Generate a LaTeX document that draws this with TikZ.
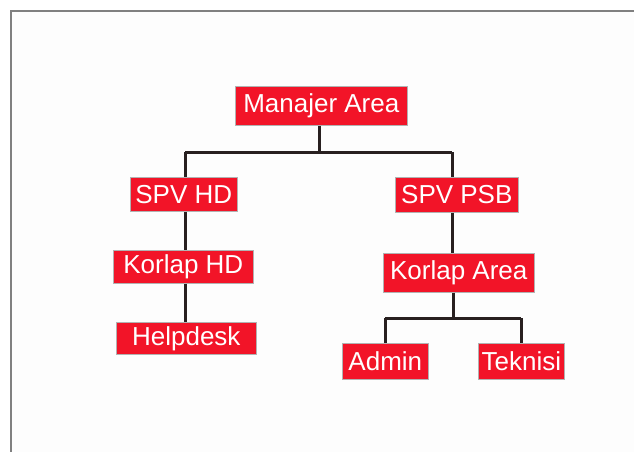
\documentclass[tikz,border=0pt]{standalone}
\usepackage{fontspec}
\setmainfont{Liberation Sans}
\definecolor{boxred}{RGB}{242,20,40}
\definecolor{linedark}{RGB}{40,32,32}
\definecolor{bggray}{RGB}{253,253,253}
\begin{document}
\begin{tikzpicture}[x=1pt,y=-1pt,
  box/.style={rectangle, fill=boxred, draw=gray!60, line width=0.6pt, text=white, inner sep=0pt,
    font=\fontsize{26}{26}\selectfont, anchor=north west},
  conn/.style={draw=linedark, line width=3pt}]
\useasboundingbox (0,0) rectangle (634,452);
\fill[white] (0,0) rectangle (634,452);
\fill[bggray] (11,11) rectangle (634,452);
\draw[gray, line width=1.5pt] (11,452) -- (11,11) -- (634,11);
% nodes
\node[box, minimum width=172pt, minimum height=39pt] (ma) at (235,86) {Manajer Area};
\node[box, minimum width=107pt, minimum height=34pt] (shd) at (130,177) {SPV HD};
\node[box, minimum width=123pt, minimum height=35pt] (spsb) at (395,177) {SPV PSB};
\node[box, minimum width=140pt, minimum height=33pt] (khd) at (113,250) {Korlap HD};
\node[box, minimum width=140pt, minimum height=32pt] (hd) at (116,322) {Helpdesk};
\node[box, minimum width=151pt, minimum height=39pt] (ka) at (383,253) {Korlap Area};
\node[box, minimum width=86pt, minimum height=36pt] (ad) at (342,343) {Admin};
\node[box, minimum width=86pt, minimum height=36pt] (tk) at (478,343) {Teknisi};
% junction coordinates
\coordinate (j1) at (319,152);
\coordinate (j2) at (453,318);
% connectors
\draw[conn] (ma.south -| j1) -- (j1);
\draw[conn] (185,152) -- (452,152);
\draw[conn] (185,152) -- (shd.north -| 185,0);
\draw[conn] (452,152) -- (spsb.north -| 452,0);
\draw[conn] (shd.south -| 185,0) -- (khd.north -| 185,0);
\draw[conn] (khd.south -| 185,0) -- (hd.north -| 185,0);
\draw[conn] (spsb.south -| 452,0) -- (ka.north -| 452,0);
\draw[conn] (ka.south -| j2) -- (j2);
\draw[conn] (385,318) -- (521,318);
\draw[conn] (385,318) -- (ad.north -| 385,0);
\draw[conn] (521,318) -- (tk.north -| 521,0);
\end{tikzpicture}
\end{document}
